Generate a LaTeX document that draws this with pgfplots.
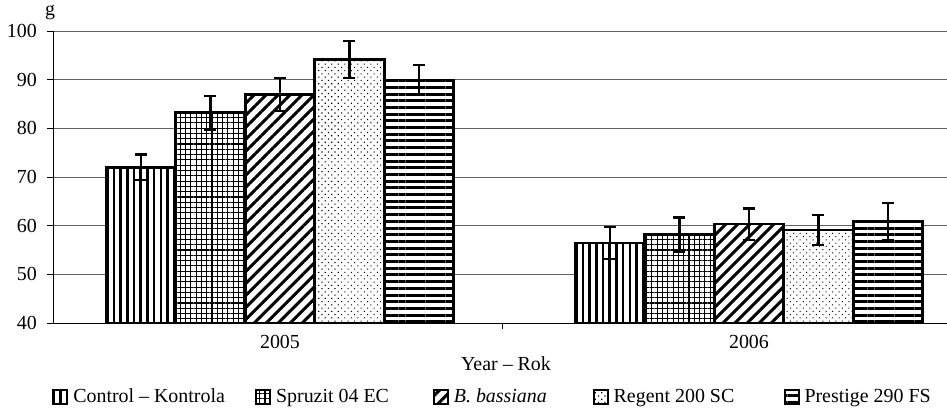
\documentclass[border=0pt]{standalone}
\usepackage{fontspec}
\setmainfont{Liberation Serif}
\usepackage{pgfplots}
\pgfplotsset{compat=1.18}
\usetikzlibrary{patterns.meta}

\pgfplotstableread{
x y e
0 72.0 2.6
1 56.4 3.3
}\control
\pgfplotstableread{
x y e
0 83.2 3.4
1 58.2 3.5
}\spruzit
\pgfplotstableread{
x y e
0 86.9 3.4
1 60.3 3.2
}\bassiana
\pgfplotstableread{
x y e
0 94.1 3.8
1 59.1 3.1
}\regent
\pgfplotstableread{
x y e
0 89.9 3.1
1 60.8 3.8
}\prestige

\pgfplotsset{
  barbase/.style={draw=black, line width=2.6bp, fill=white},
  myerr/.style={error bars/.cd, y dir=both, y explicit,
    error bar style={line width=2.4bp, black},
    error mark options={rotate=90, mark size=6bp, line width=2.4bp, black}},
  mylegimg/.style={legend image code/.code={\draw[##1, line width=1.8bp] (0bp,-7bp) rectangle (14bp,7bp);}},
}

\begin{document}
\fontsize{20}{24}\selectfont
\begin{tikzpicture}[font=\fontsize{20}{24}\selectfont]
\begin{axis}[name=ax, at={(0,0)}, anchor=south west,
  scale only axis, width=894bp, height=292bp,
  xmin=-0.484, xmax=1.4222, ymin=40, ymax=100,
  ytick={40,50,...,100},
  axis lines*=left,
  axis line style={black, line width=0.8bp},
  ymajorgrids, grid style={black!62, line width=0.9bp},
  tick align=outside, major tick length=6bp,
  tick style={black, line width=0.8bp},
  xtick={0.4733}, xticklabels={},
  extra x ticks={0,1}, extra x tick labels={2005,2006},
  extra x tick style={major tick length=0pt},
  xticklabel style={anchor=base, yshift=-26bp},
  yticklabel style={anchor=east, inner sep=0pt, xshift=-10bp},
  ybar=0pt, bar width=69.5bp,
  /pgf/number format/assume math mode=true,
  legend columns=5,
  legend style={at={(0,0)}, anchor=west, yshift=-74bp, xshift=-0.5bp,
    draw=none, fill=none, inner sep=0pt, outer sep=0pt,
    nodes={inner sep=0pt, anchor=west},
    /tikz/every odd column/.append style={column sep=5bp},
    /tikz/every even column/.append style={column sep=0bp}},
]
\addplot[barbase, mylegimg, postaction={pattern={Lines[angle=90,distance=6.7bp,line width=2.6bp]}}, myerr]
  table[x=x, y=y, y error=e] {\control};
\addlegendentry{\makebox[182bp][l]{Control – Kontrola}}
\addplot[barbase, mylegimg, postaction={pattern={Hatch[distance=5.3bp,line width=1.1bp]}}, myerr]
  table[x=x, y=y, y error=e] {\spruzit};
\addlegendentry{\makebox[157bp][l]{Spruzit 04 EC}}
\addplot[barbase, mylegimg, postaction={pattern={Lines[angle=45,distance=8.5bp,line width=3bp]}}, myerr]
  table[x=x, y=y, y error=e] {\bassiana};
\addlegendentry{\makebox[139bp][l]{\textit{B. bassiana}}}
\addplot[barbase, mylegimg, postaction={pattern={Dots[angle=45,distance=4.6bp,radius=0.75bp]}}, myerr]
  table[x=x, y=y, y error=e] {\regent};
\addlegendentry{\makebox[170bp][l]{Regent 200 SC}}
\addplot[barbase, mylegimg, postaction={pattern={Lines[angle=0,distance=6.7bp,line width=3bp]}}, myerr]
  table[x=x, y=y, y error=e] {\prestige};
\addlegendentry{Prestige 290 FS}
\end{axis}
\node[anchor=base] at ([xshift=-3bp,yshift=15bp]ax.north west) {g};
\node[anchor=base] at ([xshift=453bp,yshift=-48bp]ax.south west) {Year – Rok};
\pgfresetboundingbox
\useasboundingbox ([shift={(-53bp,-86bp)}]ax.south west) rectangle ([shift={(0bp,31bp)}]ax.north east);
\end{tikzpicture}
\end{document}
